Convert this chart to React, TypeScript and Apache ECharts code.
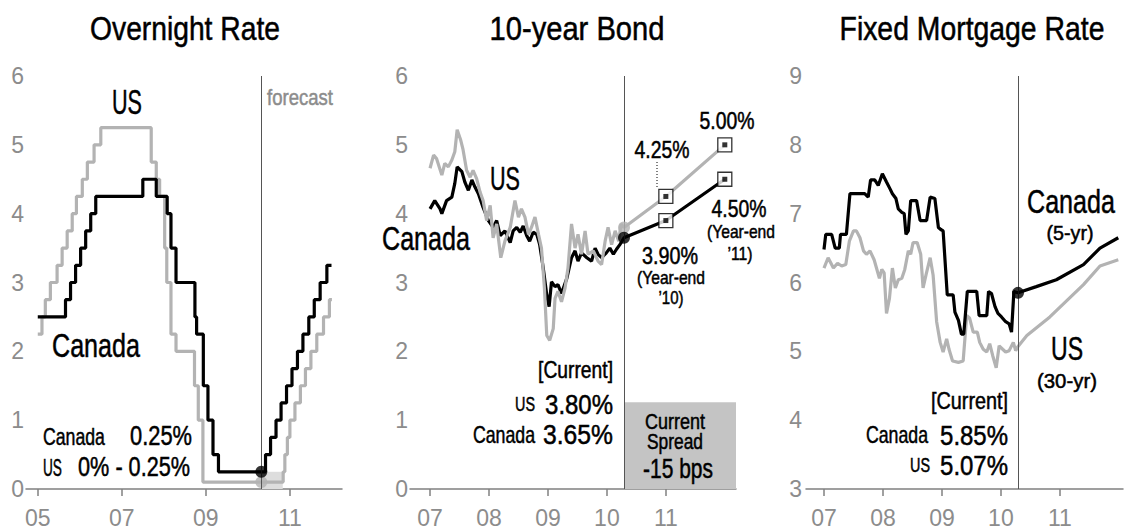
import React, { useEffect, useRef } from "react";
import * as echarts from "echarts";

const FONT = "'Liberation Sans', Arial, sans-serif";
const BLACK = "#000000";
const GRAY = "#b3b3b3";
const AXIS_GRAY = "#8c8c8c";

// ---------- Panel 1: Overnight Rate ----------
const ON_TITLE = "Overnight Rate";
const ON_X_TICKS = [2005, 2007, 2009, 2011];
const ON_NOW = 2010.32;
const ON_CAN: [number, number][] = [
  [2005.0, 2.5], [2005.66, 2.75], [2005.78, 3.0], [2005.9, 3.25], [2006.02, 3.5], [2006.14, 3.75],
  [2006.26, 4.0], [2006.38, 4.25], [2007.5, 4.5], [2007.82, 4.25], [2008.08, 4.0], [2008.17, 3.5],
  [2008.29, 3.0], [2008.74, 2.5], [2008.78, 2.25], [2008.94, 1.5], [2009.05, 1.0], [2009.17, 0.5],
  [2009.3, 0.25], [2010.42, 0.5], [2010.54, 0.75], [2010.67, 1.0], [2010.79, 1.25], [2010.92, 1.5],
  [2011.05, 1.75], [2011.18, 2.0], [2011.31, 2.25], [2011.45, 2.5], [2011.58, 2.75], [2011.72, 3.0],
  [2011.88, 3.25], [2011.99, 3.25],
];
const ON_US: [number, number][] = [
  [2005.0, 2.25], [2005.1, 2.5], [2005.18, 2.75], [2005.3, 3.0], [2005.46, 3.25], [2005.58, 3.5],
  [2005.7, 3.75], [2005.82, 4.0], [2005.92, 4.25], [2006.06, 4.5], [2006.18, 4.75], [2006.34, 5.0],
  [2006.5, 5.25], [2007.7, 4.75], [2007.82, 4.5], [2007.9, 4.25], [2008.02, 3.5], [2008.07, 3.0],
  [2008.17, 2.25], [2008.29, 2.0], [2008.73, 1.5], [2008.82, 1.0], [2008.93, 0.1], [2010.84, 0.25],
  [2010.88, 0.5], [2010.94, 0.75], [2011.0, 1.0], [2011.12, 1.25], [2011.25, 1.5], [2011.37, 1.75],
  [2011.5, 2.0], [2011.64, 2.25], [2011.8, 2.5], [2011.94, 2.75], [2012.0, 2.75],
];
const ON_CAN_NOW = 0.25;
const ON_US_NOW = 0.1;
const ON_US_BAND = { x0: 2010.32, x1: 2010.83, y0: 0, y1: 0.25 };

// ---------- Panel 2: 10-year Bond ----------
const BOND_TITLE = "10-year Bond";
const BOND_X_TICKS = [2007, 2008, 2009, 2010, 2011];
const BOND_NOW = 2010.29;
const BOND_CAN: [number, number][] = [
  [2007.0, 4.07], [2007.08, 4.19], [2007.17, 4.07], [2007.2, 4.0], [2007.28, 4.19], [2007.37, 4.24],
  [2007.42, 4.44], [2007.46, 4.68], [2007.54, 4.61], [2007.59, 4.46], [2007.65, 4.34], [2007.71, 4.49],
  [2007.76, 4.39], [2007.82, 4.29], [2007.9, 4.09], [2007.99, 3.9], [2008.07, 3.8], [2008.13, 3.9],
  [2008.19, 3.68], [2008.27, 3.75], [2008.36, 3.58], [2008.41, 3.75], [2008.47, 3.8], [2008.53, 3.73],
  [2008.58, 3.82], [2008.64, 3.68], [2008.69, 3.6], [2008.75, 3.73], [2008.81, 3.7], [2008.86, 3.55],
  [2008.92, 3.21], [2008.98, 2.82], [2009.02, 2.65], [2009.06, 3.01], [2009.12, 2.94], [2009.17, 2.97],
  [2009.23, 2.84], [2009.32, 3.06], [2009.4, 3.36], [2009.46, 3.46], [2009.51, 3.31], [2009.57, 3.43],
  [2009.66, 3.36], [2009.74, 3.31], [2009.8, 3.5], [2009.85, 3.41], [2009.91, 3.36], [2009.99, 3.43],
  [2010.05, 3.5], [2010.11, 3.41], [2010.16, 3.48], [2010.22, 3.55], [2010.29, 3.65],
];
const BOND_CAN_FC: [number, number][] = [[2010.29, 3.65], [2011.0, 3.9], [2012.0, 4.5]];
const BOND_US: [number, number][] = [
  [2007.0, 4.66], [2007.06, 4.85], [2007.11, 4.8], [2007.2, 4.56], [2007.25, 4.73], [2007.31, 4.68],
  [2007.37, 4.78], [2007.42, 4.9], [2007.46, 5.22], [2007.52, 5.07], [2007.56, 4.93], [2007.62, 4.63],
  [2007.68, 4.53], [2007.73, 4.63], [2007.79, 4.51], [2007.85, 4.31], [2007.9, 4.19], [2007.96, 3.9],
  [2008.02, 4.12], [2008.07, 3.65], [2008.13, 3.85], [2008.2, 3.36], [2008.27, 3.6], [2008.36, 3.8],
  [2008.44, 4.19], [2008.5, 3.95], [2008.55, 4.07], [2008.61, 3.95], [2008.67, 3.7], [2008.72, 3.8],
  [2008.78, 3.95], [2008.84, 3.7], [2008.89, 3.5], [2008.94, 2.92], [2008.98, 2.23], [2009.03, 2.16],
  [2009.09, 2.33], [2009.12, 2.77], [2009.17, 2.87], [2009.23, 2.72], [2009.29, 2.92], [2009.34, 3.21],
  [2009.4, 3.85], [2009.46, 3.5], [2009.51, 3.7], [2009.57, 3.41], [2009.63, 3.75], [2009.68, 3.41],
  [2009.77, 3.46], [2009.85, 3.31], [2009.91, 3.26], [2009.97, 3.6], [2010.02, 3.8], [2010.08, 3.55],
  [2010.14, 3.75], [2010.2, 3.6], [2010.24, 3.85], [2010.29, 3.8],
];
const BOND_US_FC: [number, number][] = [[2010.29, 3.8], [2011.0, 4.25], [2012.0, 5.0]];
const BOND_SPREAD_TOP = 1.26;

// ---------- Panel 3: Fixed Mortgage Rate ----------
const MORT_TITLE = "Fixed Mortgage Rate";
const MORT_X_TICKS = [2007, 2008, 2009, 2010, 2011];
const MORT_NOW = 2010.29;
const MORT_CAN: [number, number][] = [
  [2007.0, 6.48], [2007.03, 6.7], [2007.13, 6.7], [2007.19, 6.5], [2007.26, 6.5], [2007.28, 6.7],
  [2007.38, 6.7], [2007.44, 7.29], [2007.69, 7.29], [2007.75, 7.24], [2007.79, 7.49], [2007.86, 7.49],
  [2007.92, 7.41], [2007.99, 7.58], [2008.06, 7.46], [2008.12, 7.36], [2008.16, 7.29], [2008.22, 7.22],
  [2008.26, 7.07], [2008.32, 7.02], [2008.36, 7.0], [2008.39, 6.7], [2008.43, 6.75], [2008.47, 7.19],
  [2008.57, 7.19], [2008.63, 6.9], [2008.74, 6.9], [2008.8, 7.24], [2008.88, 7.22], [2008.94, 6.8],
  [2008.98, 6.77], [2009.02, 6.75], [2009.09, 5.82], [2009.19, 5.82], [2009.22, 5.57], [2009.28, 5.45],
  [2009.33, 5.25], [2009.37, 5.25], [2009.43, 5.87], [2009.59, 5.87], [2009.63, 5.52], [2009.76, 5.52],
  [2009.79, 5.87], [2009.84, 5.84], [2009.9, 5.65], [2009.95, 5.55], [2010.01, 5.5], [2010.08, 5.43],
  [2010.14, 5.4], [2010.18, 5.28], [2010.22, 5.87], [2010.29, 5.85],
];
const MORT_CAN_FC: [number, number][] = [
  [2010.29, 5.85], [2010.6, 5.94], [2010.94, 6.04], [2011.4, 6.26], [2011.68, 6.5], [2011.99, 6.65],
];
const MORT_US: [number, number][] = [
  [2007.0, 6.21], [2007.07, 6.36], [2007.16, 6.21], [2007.23, 6.28], [2007.3, 6.24], [2007.37, 6.26],
  [2007.43, 6.6], [2007.5, 6.75], [2007.55, 6.75], [2007.61, 6.65], [2007.67, 6.46], [2007.72, 6.41],
  [2007.78, 6.46], [2007.85, 6.33], [2007.89, 6.21], [2007.94, 6.06], [2007.98, 6.19], [2008.02, 6.14],
  [2008.06, 5.55], [2008.11, 5.77], [2008.16, 6.21], [2008.21, 5.92], [2008.26, 6.04], [2008.32, 6.06],
  [2008.37, 6.19], [2008.43, 6.46], [2008.47, 6.41], [2008.51, 6.58], [2008.58, 6.58], [2008.64, 6.41],
  [2008.68, 5.92], [2008.73, 6.11], [2008.8, 6.36], [2008.85, 6.11], [2008.91, 5.43], [2008.97, 5.13],
  [2009.02, 4.99], [2009.08, 5.18], [2009.12, 5.03], [2009.18, 4.86], [2009.28, 4.84], [2009.36, 4.86],
  [2009.42, 5.52], [2009.47, 5.48], [2009.53, 5.28], [2009.6, 5.28], [2009.64, 5.13], [2009.7, 5.03],
  [2009.76, 4.99], [2009.81, 5.11], [2009.86, 4.94], [2009.92, 4.76], [2009.97, 5.08], [2010.03, 5.03],
  [2010.08, 4.99], [2010.14, 5.01], [2010.21, 5.13], [2010.25, 5.01], [2010.29, 5.07],
];
const MORT_US_FC: [number, number][] = [
  [2010.29, 5.07], [2010.44, 5.23], [2010.83, 5.5], [2011.4, 5.97], [2011.68, 6.24], [2011.99, 6.33],
];

const yearLabel = (v: number) => String(Math.round(v)).slice(2);

function xAxis(gridIndex: number, min: number, max: number, ticks: number[]) {
  return {
    type: "value",
    gridIndex,
    min,
    max,
    axisLine: { show: true, lineStyle: { color: "#808080", width: 1.5 } },
    axisTick: { show: true, customValues: ticks, length: 7, lineStyle: { color: "#808080", width: 1.5 } },
    axisLabel: {
      customValues: ticks,
      formatter: yearLabel,
      color: AXIS_GRAY,
      fontSize: 23,
      fontFamily: FONT,
      margin: 17,
    },
    splitLine: { show: false },
  };
}

function yAxis(gridIndex: number, min: number, max: number, margin: number) {
  return {
    type: "value",
    gridIndex,
    min,
    max,
    interval: 1,
    axisLine: { show: false },
    axisTick: { show: false },
    splitLine: { show: false },
    axisLabel: { color: AXIS_GRAY, fontSize: 23, fontFamily: FONT, margin, padding: [7, 0, 0, 0] },
  };
}

const forecastLine = (x: number) => ({
  silent: true,
  symbol: ["none", "none"],
  label: { show: false },
  lineStyle: { color: "#555", width: 1, type: "solid" },
  data: [{ xAxis: x }],
});

function line(idx: number, data: [number, number][], color: string, z: number, extra: any = {}) {
  return {
    type: "line",
    xAxisIndex: idx,
    yAxisIndex: idx,
    data,
    showSymbol: false,
    symbol: "none",
    z,
    lineStyle: { color, width: 3.2 },
    itemStyle: { color },
    ...extra,
  };
}

function dots(idx: number, data: [number, number][], color: string, z: number, size = 12) {
  return {
    type: "scatter",
    xAxisIndex: idx,
    yAxisIndex: idx,
    data,
    symbol: "circle",
    symbolSize: size,
    z,
    itemStyle: { color },
  };
}

function boxes(idx: number, data: [number, number][], z: number) {
  return [
    {
      type: "scatter",
      xAxisIndex: idx,
      yAxisIndex: idx,
      data,
      symbol: "rect",
      symbolSize: 14,
      z,
      itemStyle: { color: "#ffffff", borderColor: BLACK, borderWidth: 1.3 },
    },
    {
      type: "scatter",
      xAxisIndex: idx,
      yAxisIndex: idx,
      data,
      symbol: "rect",
      symbolSize: 5,
      z: z + 1,
      itemStyle: { color: BLACK },
    },
  ];
}

let measureCtx: CanvasRenderingContext2D | null = null;
function measure(text: string, size: number) {
  if (!measureCtx) measureCtx = document.createElement("canvas").getContext("2d");
  if (!measureCtx) return text.length * size * 0.55;
  measureCtx.font = `${size}px ${FONT}`;
  return measureCtx.measureText(text).width;
}

// text drawn with a horizontally condensed look: width is the target width in the reference
function T(x: number, y: number, text: string, size: number, width: number, align = "center", color = BLACK) {
  const natural = measure(text, size);
  const sx = natural > 0 ? width / natural : 1;
  return {
    type: "text",
    x,
    y,
    scaleX: sx,
    scaleY: 1,
    z: 100,
    style: {
      text,
      fontSize: size,
      fontFamily: FONT,
      fill: color,
      stroke: color,
      lineWidth: 0.5,
      align,
      verticalAlign: "middle",
      textAlign: align,
      textVerticalAlign: "middle",
    },
  };
}

export default function App() {
  const ref = useRef<HTMLDivElement>(null);
  useEffect(() => {
    document.body.style.margin = "0";
    if (!ref.current) return;
    const chart = echarts.init(ref.current, null, { renderer: "svg" });
    const option: any = {
      animation: false,
      backgroundColor: "#ffffff",
      grid: [
        { left: 26, width: 316, top: 76, height: 415 },
        { left: 410, width: 326, top: 76, height: 415 },
        { left: 806, width: 317, top: 76, height: 415 },
      ],
      xAxis: [
        xAxis(0, 2004.72, 2012.24, ON_X_TICKS),
        xAxis(1, 2006.66, 2012.19, BOND_X_TICKS),
        xAxis(2, 2006.695, 2012.07, MORT_X_TICKS),
      ],
      yAxis: [yAxis(0, 0, 6, 2), yAxis(1, 0, 6, 2), yAxis(2, 3, 9, 4)],
      series: [
        // Panel 1
        line(0, ON_US, GRAY, 2, {
          step: "end",
          markArea: {
            silent: true,
            itemStyle: { color: "#dddddd" },
            data: [[{ xAxis: ON_US_BAND.x0, yAxis: ON_US_BAND.y0 }, { xAxis: ON_US_BAND.x1, yAxis: ON_US_BAND.y1 }]],
          },
        }),
        line(0, ON_CAN, BLACK, 3, { step: "end", markLine: forecastLine(ON_NOW) }),
        dots(0, [[ON_NOW, ON_US_NOW]], GRAY, 4),
        dots(0, [[ON_NOW, ON_CAN_NOW]], BLACK, 5),
        // Panel 2
        line(1, BOND_CAN.concat(BOND_CAN_FC.slice(1)), BLACK, 2, {
          markLine: forecastLine(BOND_NOW),
          markArea: {
            silent: true,
            itemStyle: { color: "#c4c4c4" },
            data: [[{ xAxis: BOND_NOW, yAxis: 0 }, { xAxis: 2012.19, yAxis: BOND_SPREAD_TOP }]],
          },
        }),
        line(1, BOND_US.concat(BOND_US_FC.slice(1)), GRAY, 3),
        ...boxes(1, BOND_US_FC.slice(1), 4),
        ...boxes(1, BOND_CAN_FC.slice(1), 4),
        dots(1, [[BOND_NOW, BOND_US_FC[0][1]]], GRAY, 6),
        dots(1, [[BOND_NOW, BOND_CAN_FC[0][1]]], BLACK, 7),
        // Panel 3
        line(2, MORT_US.concat(MORT_US_FC.slice(1)), GRAY, 2),
        line(2, MORT_CAN.concat(MORT_CAN_FC.slice(1)), BLACK, 3, { markLine: forecastLine(MORT_NOW) }),
        dots(2, [[MORT_NOW, MORT_CAN_FC[0][1]]], BLACK, 5),
      ],
      graphic: [
        // titles
        T(185, 29, ON_TITLE, 33, 190),
        T(577, 29, BOND_TITLE, 33, 175),
        T(972, 29, MORT_TITLE, 33, 265),
        // panel 1
        T(127, 102, "US", 35, 30),
        T(96, 345, "Canada", 33, 88),
        T(300, 97, "forecast", 22, 66, "center", AXIS_GRAY),
        T(43, 436, "Canada", 24, 62, "left"),
        T(192, 436, "0.25%", 27, 62, "right"),
        T(43, 467, "US", 24, 19, "left"),
        T(190, 467, "0% - 0.25%", 27, 112, "right"),
        // panel 2
        T(505, 178, "US", 34, 30),
        T(426, 238, "Canada", 34, 88),
        T(613, 370, "[Current]", 23, 75, "right"),
        T(535, 404, "US", 21, 20, "right"),
        T(613, 404, "3.80%", 27, 68, "right"),
        T(535, 435, "Canada", 23, 62, "right"),
        T(613, 435, "3.65%", 27, 70, "right"),
        T(675, 421, "Current", 22, 60),
        T(675, 441, "Spread", 22, 56),
        T(678, 469, "-15 bps", 27, 70),
        T(662, 150, "4.25%", 23, 55),
        { type: "line", z: 100, shape: { x1: 657, y1: 162, x2: 657, y2: 188 }, style: { stroke: BLACK, lineWidth: 1, lineDash: [1, 2] } },
        T(727, 121, "5.00%", 23, 55),
        T(670, 256, "3.90%", 23, 56),
        T(671, 277, "(Year-end", 19, 68),
        T(671, 298, "\u201910)", 19, 25),
        T(739, 209, "4.50%", 23, 55),
        T(741, 231, "(Year-end", 19, 68),
        T(740, 253, "\u201911)", 19, 25),
        // panel 3
        T(1071, 201, "Canada", 34, 88),
        T(1070, 233, "(5-yr)", 20, 47),
        T(1067, 348, "US", 34, 32),
        T(1067, 381, "(30-yr)", 20, 60),
        T(1008, 401, "[Current]", 23, 77, "right"),
        T(928, 435, "Canada", 23, 62, "right"),
        T(1008, 435, "5.85%", 27, 68, "right"),
        T(930, 465, "US", 21, 20, "right"),
        T(1008, 465, "5.07%", 27, 68, "right"),
      ],
    };
    chart.setOption(option);
    return () => chart.dispose();
  }, []);
  return <div ref={ref} style={{ width: 1125, height: 529 }} />;
}
